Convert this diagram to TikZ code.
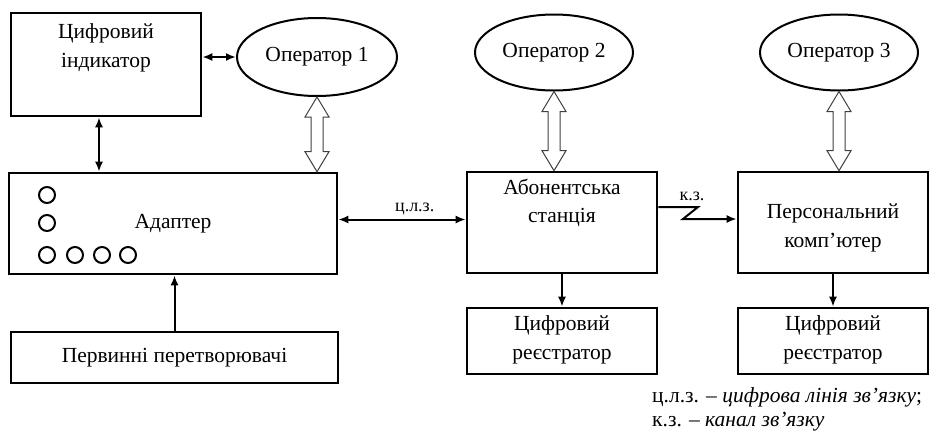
\documentclass[tikz,border=0pt]{standalone}
\usepackage{fontspec}
\setmainfont{Liberation Serif}
\usetikzlibrary{shapes,arrows.meta,positioning,calc}

\newcommand{\dblhollow}[2]{%
  \draw[hollow] (#1) -- ($(#1)+(12,20)$) -- ($(#1)+(6,20)$) -- ($(#2)+(6,-20)$)
    -- ($(#2)+(12,-20)$) -- (#2) -- ($(#2)+(-12,-20)$) -- ($(#2)+(-6,-20)$)
    -- ($(#1)+(-6,20)$) -- ($(#1)+(-12,20)$) -- cycle;}

\begin{document}
\begin{tikzpicture}[x=1pt, y=-1pt,
    block/.style={draw, line width=2.6pt, rectangle, align=center, inner sep=0pt, font=\fontsize{21.5}{30}\selectfont},
    top/.style={anchor=north, align=center, inner sep=0pt, font=\fontsize{21.5}{28.5}\selectfont},
    oper/.style={draw, line width=2pt, ellipse, inner sep=0pt, minimum width=158, minimum height=76, font=\fontsize{21.5}{24}\selectfont},
    link/.style={draw, line width=2pt, -{Latex[length=10pt,width=8pt]}},
    bilink/.style={link, {Latex[length=10pt,width=8pt]}-{Latex[length=10pt,width=8pt]}},
    hollow/.style={draw=black!75, line width=1pt, fill=white, line join=miter},
    tag/.style={font=\fontsize{18}{20}\selectfont}
]
\useasboundingbox (0,0) rectangle (930,432);

\node[block, minimum width=190, minimum height=103, label={[top, yshift=-12]north:Цифровий\\індикатор}] (ind) at (106,64.5) {};
\node[oper, minimum width=160, minimum height=78] (op1) at (317,57) {Оператор 1};
\node[oper] (op2) at (554,52.5) {Оператор 2};
\node[oper] (op3) at (839,52.5) {Оператор 3};

\node[block, minimum width=328, minimum height=101] (adapter) at (173,223.5) {Адаптер};
\node[block, minimum width=327, minimum height=51] (perv) at (174.5,357.5) {Первинні перетворювачі};
\node[block, minimum width=190, minimum height=101, label={[top, yshift=-8]north:Абонентська\\станція}] (abon) at (562,222.5) {};
\node[block, minimum width=190, minimum height=101, label={[top, yshift=-33]north:Персональний\\комп’ютер}] (pc) at (833,222.5) {};
\node[block, minimum width=190, minimum height=66, label={[top, yshift=-9]north:Цифровий\\реєстратор}] (reg1) at (562,341) {};
\node[block, minimum width=190, minimum height=66, label={[top, yshift=-9]north:Цифровий\\реєстратор}] (reg2) at (833,341) {};

\foreach \cx/\cy in {47/195, 47/223, 47/255, 75/255, 102/255, 128/255}
  \draw[line width=2pt] (\cx,\cy) circle[radius=8pt];

\coordinate (ia) at ($(ind.south)+(-7,0)$);
\coordinate (cl) at ($(adapter.east)+(0,-4)$);
\coordinate (kz1) at (698,207);
\coordinate (kz2) at (683,219);

\draw[bilink] (ind.east |- op1.west) -- (op1.west);
\draw[bilink] (ia) -- (ia |- adapter.north);
\draw[link] (perv.north) -- (perv.north |- adapter.south);
\draw[bilink] (cl) -- node[tag, above, pos=0.6]{ц.л.з.} (cl -| abon.west);
\draw[link] (abon.east |- kz1) -- (kz1) node[tag, above=2pt, xshift=-6]{к.з.} -- (kz2) -- (kz2 -| pc.west);

\draw[link] (abon.south) -- (reg1.north);
\draw[link] (pc.south) -- (reg2.north);

\dblhollow{op1.south}{op1.south |- adapter.north}
\dblhollow{op2.south}{op2.south |- abon.north}
\dblhollow{op3.south}{op3.south |- pc.north}

\node[anchor=north west, align=left, inner sep=0pt, font=\fontsize{21.5}{24}\selectfont] (legend) at (652,387)
  {ц.л.з. -- \textit{цифрова лінія зв’язку};\\к.з. -- \textit{канал зв’язку}};

\end{tikzpicture}
\end{document}
